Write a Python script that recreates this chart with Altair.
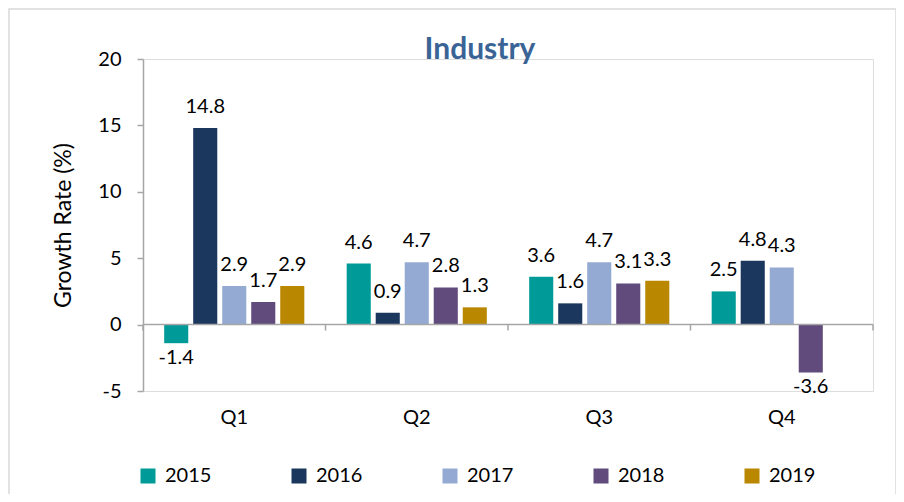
import altair as alt
import pandas as pd

quarters = ["Q1", "Q2", "Q3", "Q4"]
years = ["2015", "2016", "2017", "2018", "2019"]
v2015 = [-1.4, 4.6, 3.6, 2.5]
v2016 = [14.8, 0.9, 1.6, 4.8]
v2017 = [2.9, 4.7, 4.7, 4.3]
v2018 = [1.7, 2.8, 3.1, -3.6]
v2019 = [2.9, 1.3, 3.3, None]
colors = ["#009b98", "#1c375e", "#95aad3", "#614b7c", "#b98800"]
y_ticks = [-5, 0, 5, 10, 15, 20]

rows = []
for yr, vals in zip(years, [v2015, v2016, v2017, v2018, v2019]):
    for q, v in zip(quarters, vals):
        if v is None:
            continue
        rows.append({"Quarter": q, "Year": yr, "Value": v, "Label": f"{v:.1f}"})
df = pd.DataFrame(rows)
qdf = pd.DataFrame({"Quarter": quarters})

FONT = "Lato"
GRAY = "#a6a6a6"

x_enc = alt.X(
    "Quarter:N", sort=quarters,
    scale=alt.Scale(paddingInner=0, paddingOuter=0),
    axis=alt.Axis(title=None, domain=False, ticks=False, labelAngle=0,
                  labelFontSize=20, labelFont=FONT, labelColor="black",
                  labelPadding=16),
)
xo_enc = alt.XOffset("Year:N", sort=years,
                     scale=alt.Scale(paddingInner=0.17, paddingOuter=0.73))
y_enc = alt.Y(
    "Value:Q",
    scale=alt.Scale(domain=[-5, 20], nice=False),
    axis=alt.Axis(values=y_ticks, title="Growth Rate (%)", titleFontSize=23,
                  titleFont=FONT, titleFontWeight="normal", titleColor="black",
                  titlePadding=22, labelFontSize=20, labelFont=FONT,
                  labelColor="black", labelPadding=16, tickSize=6,
                  tickColor=GRAY, domainColor=GRAY, domainWidth=1.5,
                  tickWidth=1.5, grid=False,
                  labelExpr="toString(datum.value)"),
)
color_enc = alt.Color(
    "Year:N", sort=years,
    scale=alt.Scale(domain=years, range=colors),
    legend=alt.Legend(title=None, orient="none", legendX=-5, legendY=407,
                      direction="horizontal", symbolType="square",
                      symbolSize=225, symbolStrokeWidth=0,
                      labelFontSize=20, labelFont=FONT, labelColor="black",
                      columnPadding=77, labelOffset=7),
)

base = alt.Chart(df)
bars = base.mark_bar().encode(x=x_enc, xOffset=xo_enc, y=y_enc, color=color_enc)

pos_text = base.transform_filter("datum.Value >= 0").mark_text(
    baseline="middle", dy=-21, fontSize=20, font=FONT, color="black"
).encode(x=alt.X("Quarter:N", sort=quarters), xOffset=xo_enc,
         y="Value:Q", text="Label:N")
neg_text = base.transform_filter("datum.Value < 0").mark_text(
    baseline="middle", dy=15, fontSize=20, font=FONT, color="black"
).encode(x=alt.X("Quarter:N", sort=quarters), xOffset=xo_enc,
         y="Value:Q", text="Label:N")

qbase = alt.Chart(qdf)
zero = qbase.transform_filter("datum.Quarter == 'Q1'").mark_rule(
    color=GRAY, strokeWidth=1.5).encode(y=alt.datum(0))
ticks_l = qbase.mark_rule(color=GRAY, strokeWidth=1.5).encode(
    x=alt.X("Quarter:N", sort=quarters, bandPosition=0),
    y=alt.datum(0), y2=alt.datum(-0.45))
ticks_r = qbase.transform_filter("datum.Quarter == 'Q4'").mark_rule(
    color=GRAY, strokeWidth=1.5).encode(
    x=alt.X("Quarter:N", sort=quarters, bandPosition=1),
    y=alt.datum(0), y2=alt.datum(-0.45))

border = alt.Chart(pd.DataFrame({"k": [0]})).mark_rect(
    fillOpacity=0, stroke="#d9d9d9", strokeWidth=1.5).encode(
    x=alt.value(-134), x2=alt.value(753), y=alt.value(-50), y2=alt.value(437))

chart = alt.layer(border, bars, zero, ticks_l, ticks_r, pos_text, neg_text).properties(
    width=730, height=332,
    autosize=alt.AutoSizeParams(type="none"),
    padding={"left": 135, "top": 51, "right": 23, "bottom": 103},
    title=alt.Title("Industry", fontSize=30, font=FONT, fontWeight="bold",
                    color="#3b6496", anchor="middle", dx=-28, offset=-57),
).configure_view(stroke=None).configure(background="white")

chart.save("out.html", embed_options={"renderer": "svg", "actions": False})
